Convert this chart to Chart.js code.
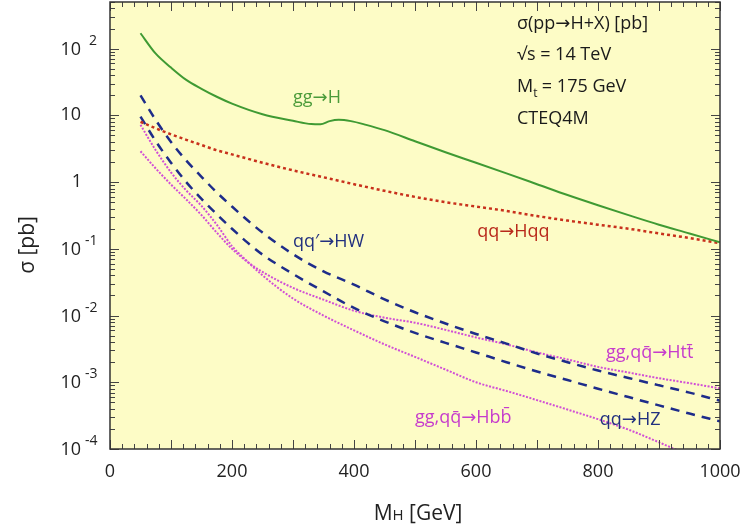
<!DOCTYPE html>
<html>
<head>
<meta charset="utf-8">
<script src="https://cdn.jsdelivr.net/npm/chart.js@4/dist/chart.umd.min.js"></script>
<style>
  body { margin: 0; background: #fff; }
  #wrap { width: 743px; height: 529px; }
</style>
</head>
<body>
<div id="wrap"><canvas id="xsec" width="743" height="529"></canvas></div>
<script>
//----------------------
// Data
//----------------------

// Higgs mass grid [GeV]
const massGrid = [50, 75, 100, 125, 150, 175, 200, 225, 250, 300, 350, 400, 450, 500, 550, 600, 650, 700, 750, 800, 850, 900, 950, 1000];
// gg->H has its own grid because of the top threshold bump
const massGG = [50, 75, 100, 125, 150, 175, 200, 250, 300, 330, 345, 360, 375, 395, 420, 450, 500, 550, 600, 650, 700, 750, 800, 850, 900, 950, 1000];

// cross sections [pb]
const ggH = [170, 84, 52, 34, 25, 19, 15, 10.4, 8.3, 7.4, 7.35, 8.2, 8.6, 8.2, 7.2, 6.0, 4.1, 2.8, 1.95, 1.35, 0.93, 0.64, 0.45, 0.32, 0.23, 0.17, 0.125];
const qqHqq = [8.0, 6.4, 5.2, 4.3, 3.6, 3.0, 2.6, 2.25, 1.95, 1.5, 1.18, 0.93, 0.74, 0.6, 0.5, 0.43, 0.37, 0.31, 0.265, 0.23, 0.2, 0.17, 0.145, 0.121];
const qqHW = [20, 8.5, 4.0, 2.1, 1.2, 0.7, 0.43, 0.27, 0.175, 0.083, 0.046, 0.029, 0.0175, 0.0112, 0.0076, 0.0053, 0.0038, 0.0027, 0.002, 0.0015, 0.00116, 0.0009, 0.0007, 0.00053];
const qqHZ = [9.6, 4.1, 1.95, 1.0, 0.56, 0.33, 0.2, 0.125, 0.082, 0.042, 0.023, 0.013, 0.0082, 0.0055, 0.0039, 0.0028, 0.002, 0.00145, 0.00108, 0.0008, 0.0006, 0.00045, 0.00034, 0.00026];
const ggHtt = [2.9, 1.6, 0.92, 0.55, 0.32, 0.175, 0.1, 0.064, 0.045, 0.026, 0.0173, 0.0118, 0.0093, 0.0078, 0.0061, 0.0047, 0.0037, 0.0028, 0.0022, 0.0017, 0.0014, 0.00115, 0.00097, 0.00081];
const ggHbb = [7.2, 3.0, 1.4, 0.75, 0.44, 0.23, 0.11, 0.065, 0.04, 0.018, 0.01, 0.006, 0.0037, 0.0024, 0.00155, 0.001, 0.00074, 0.00054, 0.00039, 0.00028, 0.000195, 0.000126, 0.00008, 0.00005];

// axis ticks
const xTicks = [0, 200, 400, 600, 800, 1000];
const yTickExps = [-4, -3, -2, -1, 0, 1, 2];

//----------------------
// helpers
//----------------------

const FONT = "'Open Sans', 'DejaVu Sans', sans-serif";

function pts(xs, ys) {
    return xs.map((x, i) => ({ x: x, y: ys[i] }));
}

function curve(data, color, dash, width) {
    return {
        data: data,
        borderColor: color,
        borderDash: dash,
        borderWidth: width,
        pointRadius: 0,
        fill: false,
        cubicInterpolationMode: 'monotone'
    };
}

//----------------------
// Frame, ticks and texts drawn on top of the chart area
//----------------------

const framePlugin = {
    id: 'frame',
    beforeDraw(chart) {
        const c = chart.ctx, a = chart.chartArea;
        c.save();
        c.fillStyle = '#ffffff';
        c.fillRect(0, 0, chart.width, chart.height);
        c.fillStyle = '#fdfcc6';
        c.fillRect(a.left, a.top, a.right - a.left, a.bottom - a.top);
        c.restore();
    },
    afterDatasetsDraw(chart) {
        const c = chart.ctx, a = chart.chartArea;
        const xs = chart.scales.x, ys = chart.scales.y;
        c.save();

        // inward ticks on all four sides
        c.strokeStyle = '#444';
        c.lineWidth = 1;
        c.beginPath();
        for (let m = 0; m <= 1000; m += 20) {
            const px = Math.round(xs.getPixelForValue(m)) + 0.5;
            const len = (m % 100 === 0) ? 9 : 5;
            c.moveTo(px, a.bottom); c.lineTo(px, a.bottom - len);
            c.moveTo(px, a.top); c.lineTo(px, a.top + len);
        }
        for (let e = -4; e <= 2; e++) {
            for (let k = 1; k <= 9; k++) {
                const v = k * Math.pow(10, e);
                if (v > ys.max) break;
                const py = Math.round(ys.getPixelForValue(v)) + 0.5;
                const len = (k === 1) ? 9 : 5;
                c.moveTo(a.left, py); c.lineTo(a.left + len, py);
                c.moveTo(a.right, py); c.lineTo(a.right - len, py);
            }
        }
        c.stroke();

        // frame
        c.lineWidth = 1.5;
        c.strokeStyle = '#333';
        c.strokeRect(a.left, a.top, a.right - a.left, a.bottom - a.top);

        // x tick labels
        c.fillStyle = '#222';
        c.font = '18px ' + FONT;
        c.textAlign = 'center';
        c.textBaseline = 'middle';
        xTicks.forEach(m => {
            c.fillText(String(m), xs.getPixelForValue(m), 472);
        });

        // y tick labels, 10 with a raised exponent
        yTickExps.forEach(e => {
            const py = ys.getPixelForValue(Math.pow(10, e));
            c.font = '18px ' + FONT;
            c.textAlign = 'right';
            c.textBaseline = 'middle';
            if (e === 0) {
                c.fillText('1', 82, py);
            } else if (e === 1) {
                c.fillText('10', 81, py);
            } else {
                c.fillText('10', 81, py + 1);
                c.font = '14px ' + FONT;
                c.textAlign = 'left';
                c.fillText(String(e), e < 0 ? 85 : 89, py - 8);
            }
        });

        // axis titles
        c.font = '21px ' + FONT;
        c.fillStyle = '#222';
        c.save();
        c.translate(28, 245);
        c.rotate(-Math.PI / 2);
        c.textAlign = 'center';
        c.textBaseline = 'middle';
        c.fillText('\u03c3 [pb]', 0, 0);
        c.restore();

        c.textBaseline = 'alphabetic';
        c.textAlign = 'left';
        const partM = 'M', partH = 'H', partRest = ' [GeV]';
        c.font = '21px ' + FONT;
        const wM = c.measureText(partM).width, wR = c.measureText(partRest).width;
        c.font = '15px ' + FONT;
        const wH = c.measureText(partH).width;
        let tx = (a.left + a.right) / 2 - (wM + wH + wR) / 2 + 3;
        c.font = '21px ' + FONT;
        c.fillText(partM, tx, 520);
        c.font = '15px ' + FONT;
        c.fillText(partH, tx + wM, 520);
        c.font = '21px ' + FONT;
        c.fillText(partRest, tx + wM + wH, 520);

        // info block, top right
        c.font = '18px ' + FONT;
        c.fillStyle = '#1a1a1a';
        c.textBaseline = 'middle';
        const ix = 517;
        c.fillText('\u03c3(pp\u2192H+X) [pb]', ix, 24);
        c.fillText('\u221as = 14 TeV', ix, 55);
        c.fillText('M', ix, 87);
        const wMt = c.measureText('M').width;
        c.font = '12px ' + FONT;
        c.fillText('t', ix + wMt, 94);
        c.font = '18px ' + FONT;
        c.fillText(' = 175 GeV', ix + wMt + 4, 87);
        c.fillText('CTEQ4M', ix, 119);

        // curve labels, placed in data coordinates
        const labels = [
            { t: 'gg\u2192H', m: 300, s: 18.3, col: '#4b9b3a' },
            { t: 'qq\u2032\u2192HW', m: 300, s: 0.127, col: '#22307f' },
            { t: 'qq\u2192Hqq', m: 602, s: 0.179, col: '#b8281a' },
            { t: 'gg,qq\u0304\u2192Htt\u0304', m: 813, s: 0.00275, col: '#c63ccc' },
            { t: 'gg,qq\u0304\u2192Hbb\u0304', m: 500, s: 0.00029, col: '#c63ccc' },
            { t: 'qq\u2192HZ', m: 803, s: 0.00027, col: '#22307f' }
        ];
        c.font = '18px ' + FONT;
        c.textAlign = 'left';
        c.textBaseline = 'middle';
        labels.forEach(l => {
            c.fillStyle = l.col;
            c.fillText(l.t, xs.getPixelForValue(l.m), ys.getPixelForValue(l.s));
        });

        c.restore();
    }
};

//----------------------
// Chart
//----------------------

const ctx = document.getElementById('xsec').getContext('2d');
const chart = new Chart(ctx, {
    type: 'line',
    data: {
        datasets: [
            curve(pts(massGG, ggH), '#3f9a33', [], 2),
            curve(pts(massGrid, qqHqq), '#c8301c', [3, 3], 2.5),
            curve(pts(massGrid, qqHW), '#1e2c8a', [9, 7], 2.5),
            curve(pts(massGrid, qqHZ), '#1e2c8a', [9, 7], 2.5),
            curve(pts(massGrid, ggHtt), '#d14fd6', [2, 1.5], 2),
            curve(pts(massGrid, ggHbb), '#d14fd6', [2, 1.5], 2)
        ]
    },
    options: {
        responsive: false,
        animation: false,
        devicePixelRatio: 1,
        layout: { padding: { left: 110, right: 23, top: 2, bottom: 80 } },
        plugins: {
            legend: { display: false },
            tooltip: { enabled: false }
        },
        scales: {
            x: { type: 'linear', min: 0, max: 1000, display: false },
            y: { type: 'logarithmic', min: 1e-4, max: 500, display: false }
        }
    },
    plugins: [framePlugin]
});
</script>
</body>
</html>
